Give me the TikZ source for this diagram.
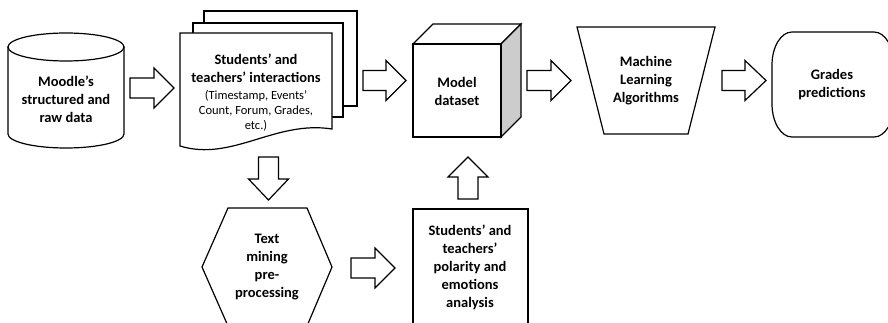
\documentclass[tikz,border=0pt]{standalone}
\usepackage{fontspec}
\setmainfont{Carlito}
\begin{document}
\begin{tikzpicture}[x=1pt,y=-1pt,
  shapeline/.style={draw=black,line width=1.2pt,fill=white,line join=miter},
  barrow/.style={draw=black,line width=1.2pt,fill=white,line join=miter},
  lbl/.style={font=\bfseries\fontsize{14.5}{18}\selectfont,align=center,inner sep=0pt}]
\newcommand\harrow[4]{% x1 x2 xbase ycenter
  \draw[barrow] (#1,#4-10) -- (#3,#4-10) -- (#3,#4-20) -- (#2,#4) -- (#3,#4+20) -- (#3,#4+10) -- (#1,#4+10) -- cycle;}
\newcommand\varrow[4]{% y1 y2 ybase xcenter
  \draw[barrow] (#4-10,#1) -- (#4-10,#3) -- (#4-20,#3) -- (#4,#2) -- (#4+20,#3) -- (#4+10,#3) -- (#4+10,#1) -- cycle;}
\useasboundingbox (0,0) rectangle (888,323);
\clip (0,0) rectangle (888,323);
\fill[white] (0,0) rectangle (888,323);

% Cylinder
\draw[shapeline] (8,47) -- (8,134) .. controls (8,141.73) and (33.97,148) .. (66,148)
  .. controls (98.03,148) and (124,141.73) .. (124,134) -- (124,47) -- cycle;
\draw[shapeline] (66,47) ellipse [x radius=58, y radius=14];
\node[lbl] (moodle) at (66,99) {Moodle's\\structured and\\raw data};

% Document stack
\draw[shapeline] (204,11) rectangle (357,106);
\draw[shapeline] (193,23) rectangle (343,117);
\draw[shapeline] (180,33) -- (332,33) -- (332,129) .. controls (275,120) and (232,162) .. (180,146) -- cycle;
\node[lbl] (inter) at (256,93) {Students' and\\teachers' interactions\\[-1pt]
  {\mdseries\fontsize{12.5}{15.5}\selectfont (Timestamp, Events'}\\[-3pt]
  {\mdseries\fontsize{12.5}{15.5}\selectfont Count, Forum, Grades,}\\[-3pt]
  {\mdseries\fontsize{12.5}{15.5}\selectfont etc.)}};

% Cube
\draw[shapeline] (413,44) -- (433,24) -- (521,24) -- (501,44) -- cycle;
\draw[shapeline,fill=black!20] (501,44) -- (521,24) -- (521,117) -- (501,137) -- cycle;
\draw[shapeline] (413,44) rectangle (501,137);
\node[lbl] (model) at (457,91) {Model\\dataset};

% Trapezoid
\draw[shapeline] (577,27) -- (715,27) -- (688,134) -- (604,134) -- cycle;
\node[lbl] (ml) at (646,81) {Machine\\Learning\\Algorithms};

% Grades predictions
\draw[shapeline] (792,32) -- (874,32) .. controls (885.05,32) and (894,46.77) .. (894,65) -- (894,104)
  .. controls (894,122.23) and (885.05,137) .. (874,137) -- (792,137)
  .. controls (780.95,137) and (772,122.23) .. (772,104) -- (772,65)
  .. controls (772,46.77) and (780.95,32) .. (792,32) -- cycle;
\node[lbl] (grades) at (832,85) {Grades\\predictions};

% Hexagon
\draw[shapeline] (228,208) -- (307,208) -- (332,267) -- (307,326) -- (228,326) -- (202,267) -- cycle;
\node[lbl] (text) at (267,267) {Text\\mining\\pre-\\processing};

% Polarity box
\draw[shapeline] (413,209) rectangle (528,340);
\node[lbl] (polarity) at (470,267.5) {Students' and\\teachers'\\polarity and\\emotions\\analysis};

% Block arrows
\harrow{130}{174}{154}{88}
\harrow{363}{406}{386}{80.5}
\harrow{527}{571}{551}{80.5}
\harrow{722}{766}{745}{80.5}
\harrow{351}{395}{375}{268}
\varrow{157}{200}{179}{268.5}
\varrow{199}{157}{177}{468}
\end{tikzpicture}
\end{document}
